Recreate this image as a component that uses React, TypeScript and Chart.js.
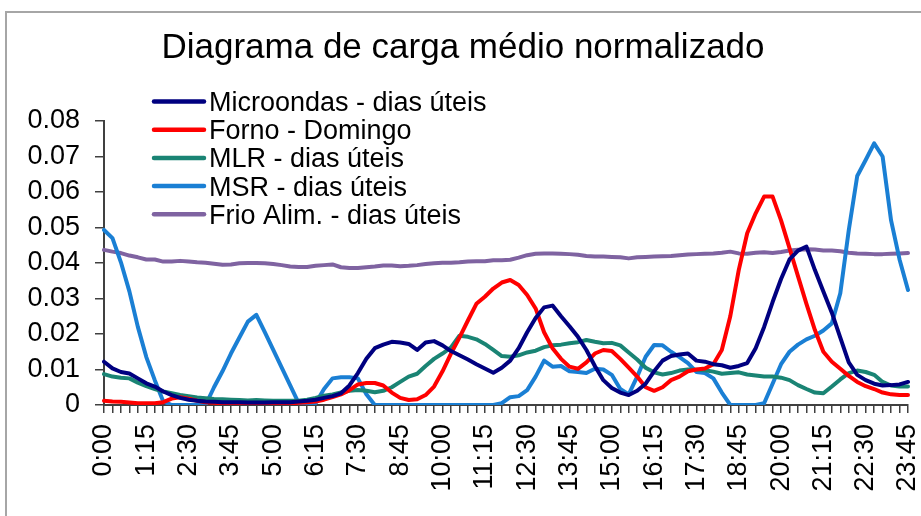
import React, { useEffect, useRef } from "react";
import Chart from "chart.js/auto";

const TIMES = [
  "0:00", "0:15", "0:30", "0:45", "1:00", "1:15", "1:30", "1:45",
  "2:00", "2:15", "2:30", "2:45", "3:00", "3:15", "3:30", "3:45",
  "4:00", "4:15", "4:30", "4:45", "5:00", "5:15", "5:30", "5:45",
  "6:00", "6:15", "6:30", "6:45", "7:00", "7:15", "7:30", "7:45",
  "8:00", "8:15", "8:30", "8:45", "9:00", "9:15", "9:30", "9:45",
  "10:00", "10:15", "10:30", "10:45", "11:00", "11:15", "11:30", "11:45",
  "12:00", "12:15", "12:30", "12:45", "13:00", "13:15", "13:30", "13:45",
  "14:00", "14:15", "14:30", "14:45", "15:00", "15:15", "15:30", "15:45",
  "16:00", "16:15", "16:30", "16:45", "17:00", "17:15", "17:30", "17:45",
  "18:00", "18:15", "18:30", "18:45", "19:00", "19:15", "19:30", "19:45",
  "20:00", "20:15", "20:30", "20:45", "21:00", "21:15", "21:30", "21:45",
  "22:00", "22:15", "22:30", "22:45", "23:00", "23:15", "23:30", "23:45",
];

const SHOWN_TICKS = [
  "0:00", "1:15", "2:30", "3:45", "5:00", "6:15", "7:30", "8:45", "10:00", "11:15",
  "12:30", "13:45", "15:00", "16:15", "17:30", "18:45", "20:00", "21:15", "22:30", "23:45",
];

const Y_TICKS = [0, 0.01, 0.02, 0.03, 0.04, 0.05, 0.06, 0.07, 0.08];

const TITLE = "Diagrama de carga médio normalizado";

const MICROONDAS = [
  0.0122, 0.0103, 0.0093, 0.0089, 0.0075, 0.0061, 0.0052, 0.0038,
  0.0028, 0.002, 0.0015, 0.0012, 0.001, 0.0009, 0.0008, 0.0008,
  0.0008, 0.0007, 0.0007, 0.0007, 0.0008, 0.0008, 0.0008, 0.001,
  0.0012, 0.0015, 0.002, 0.0025, 0.0033, 0.0055, 0.009, 0.013,
  0.016, 0.017, 0.0178, 0.0176, 0.0172, 0.0155, 0.0176, 0.018,
  0.0168, 0.0152, 0.014, 0.0128, 0.0115, 0.0103, 0.0091, 0.0105,
  0.0125, 0.016, 0.0205, 0.0245, 0.0275, 0.028, 0.025, 0.0222,
  0.0192, 0.0155, 0.011, 0.007, 0.0048, 0.0035, 0.0028, 0.004,
  0.006, 0.0095, 0.0125, 0.0138, 0.0142, 0.0145, 0.0125, 0.0122,
  0.0115, 0.0112, 0.0105, 0.011, 0.0118, 0.016, 0.022, 0.029,
  0.0355, 0.041, 0.0435, 0.0446, 0.038, 0.032, 0.026, 0.019,
  0.012, 0.0085, 0.007, 0.006, 0.0055, 0.0056, 0.0058, 0.0065,
];

const FORNO = [
  0.0012, 0.001, 0.0009, 0.0007, 0.0005, 0.0005, 0.0005, 0.0008,
  0.0018, 0.0022, 0.0018, 0.0012, 0.0008, 0.0006, 0.0005, 0.0005,
  0.0005, 0.0005, 0.0005, 0.0005, 0.0005, 0.0005, 0.0005, 0.0006,
  0.0008, 0.001, 0.0015, 0.0022, 0.003, 0.0042, 0.0058, 0.0062,
  0.0062, 0.0055, 0.0035, 0.002, 0.0014, 0.0016, 0.0028, 0.0052,
  0.0095, 0.0145, 0.019, 0.0238, 0.0285, 0.0305, 0.0328, 0.0345,
  0.0352, 0.0338, 0.031, 0.0272, 0.0205, 0.016, 0.013, 0.0108,
  0.0102, 0.012, 0.0145, 0.0155, 0.0152, 0.013, 0.0105, 0.008,
  0.005, 0.004, 0.005, 0.007, 0.008, 0.0095, 0.01, 0.0103,
  0.0115, 0.0155, 0.025, 0.038, 0.0484, 0.054, 0.0587, 0.0587,
  0.052, 0.0442, 0.0363, 0.0285, 0.0211, 0.015, 0.0122, 0.0102,
  0.0082, 0.0065, 0.0053, 0.0045, 0.0035, 0.003, 0.0028, 0.0028,
];

const MLR = [
  0.0087, 0.008, 0.0077, 0.0075, 0.0063, 0.0053, 0.0045, 0.0038,
  0.0033, 0.0028, 0.0025, 0.0021, 0.0019, 0.0017, 0.0016, 0.0015,
  0.0014, 0.0013, 0.0014, 0.0013, 0.0012, 0.0012, 0.0012, 0.0012,
  0.0015, 0.002, 0.0026, 0.003, 0.0035, 0.004, 0.0042, 0.004,
  0.0036, 0.004, 0.005, 0.0065, 0.008, 0.0088, 0.011, 0.013,
  0.0145, 0.0162, 0.0195, 0.0192, 0.0185, 0.0172, 0.0155, 0.0138,
  0.0136, 0.014, 0.0148, 0.0153, 0.0163, 0.0168, 0.017, 0.0174,
  0.0177, 0.0183, 0.0178, 0.0174, 0.0175, 0.0168, 0.0148, 0.0128,
  0.0105, 0.0092, 0.0086, 0.009, 0.0097, 0.01, 0.0099, 0.0098,
  0.0094, 0.0088, 0.009, 0.0092, 0.0086, 0.0083, 0.008, 0.008,
  0.0077, 0.007, 0.0056, 0.0045, 0.0035, 0.0033, 0.0052, 0.0072,
  0.009, 0.0097, 0.0093, 0.0085, 0.0065, 0.0055, 0.0052, 0.0052,
];

const MSR = [
  0.0493, 0.047, 0.0402, 0.032, 0.022, 0.0135, 0.007, 0.001,
  0, 0, 0, 0, 0, 0.005, 0.0095, 0.0145,
  0.019, 0.0235, 0.0254, 0.0205, 0.0155, 0.0105, 0.0055, 0.0005,
  0, 0.0005, 0.0045, 0.0075, 0.0078, 0.0078, 0.0075, 0.003,
  0, 0, 0, 0, 0, 0, 0, 0,
  0, 0, 0, 0, 0, 0, 0, 0.0005,
  0.0022, 0.0025, 0.0042, 0.008, 0.0125, 0.0108, 0.011, 0.0095,
  0.0093, 0.009, 0.0102, 0.01, 0.0085, 0.0045, 0.003, 0.008,
  0.0136, 0.0169, 0.0168, 0.015, 0.0135, 0.0118, 0.0093, 0.009,
  0.0075, 0.0035, 0, 0, 0, 0, 0.0005, 0.006,
  0.0115, 0.015, 0.017, 0.0185, 0.0195, 0.021, 0.023, 0.0315,
  0.0492, 0.0645, 0.069, 0.0737, 0.07, 0.052, 0.041, 0.0324,
];

const FRIO = [
  0.0437, 0.0432, 0.0428, 0.0421, 0.0416, 0.041, 0.041, 0.0404,
  0.0404, 0.0406, 0.0404, 0.0402, 0.0401, 0.0398, 0.0395, 0.0396,
  0.0399, 0.04, 0.04, 0.0399, 0.0397, 0.0394, 0.039, 0.0389,
  0.0389, 0.0392, 0.0394, 0.0396, 0.0388, 0.0386, 0.0386, 0.0388,
  0.039, 0.0393, 0.0393, 0.0391, 0.0392, 0.0394, 0.0397, 0.0399,
  0.0401, 0.0401, 0.0402, 0.0404, 0.0405, 0.0405, 0.0408, 0.0408,
  0.0409, 0.0415, 0.0422, 0.0426, 0.0427, 0.0427, 0.0426, 0.0425,
  0.0423, 0.042, 0.0418, 0.0418, 0.0417, 0.0416, 0.0413, 0.0416,
  0.0417, 0.0418, 0.0419, 0.042, 0.0422, 0.0424, 0.0425, 0.0426,
  0.0427, 0.0429, 0.0432, 0.0427, 0.0426, 0.0429, 0.043, 0.0428,
  0.0431, 0.0435, 0.0437, 0.0439, 0.0438, 0.0435, 0.0435, 0.0433,
  0.0429, 0.0427, 0.0426, 0.0425, 0.0425, 0.0426, 0.0427, 0.0428,
];

const SERIES_LABELS = [
  "Microondas - dias úteis",
  "Forno - Domingo",
  "MLR - dias úteis",
  "MSR - dias úteis",
  "Frio Alim. - dias úteis",
];
const SERIES_COLORS = ["#000080", "#ff0000", "#1a8474", "#1a7fd4", "#7f63a1"];

const FONT = '"Liberation Sans", Arial, sans-serif';

const overlayPlugin = {
  id: "overlay",
  afterDraw(chart: any) {
    const ctx = chart.ctx;
    const area = chart.chartArea;
    ctx.save();
    // title
    ctx.fillStyle = "#000";
    ctx.font = `35px ${FONT}`;
    ctx.textAlign = "center";
    ctx.textBaseline = "alphabetic";
    ctx.fillText(TITLE, 463, 58);
    // legend
    chart.data.datasets.forEach((ds: any, i: number) => {
      const y = 101.5 + i * 28.2;
      ctx.strokeStyle = ds.borderColor;
      ctx.lineWidth = 4.5;
      ctx.lineCap = "round";
      ctx.beginPath();
      ctx.moveTo(area.left + 50, y);
      ctx.lineTo(area.left + 100, y);
      ctx.stroke();
      ctx.fillStyle = "#000";
      ctx.font = `27px ${FONT}`;
      ctx.textAlign = "left";
      ctx.textBaseline = "alphabetic";
      ctx.fillText(ds.label, area.left + 105, y + 9.5);
    });
    ctx.restore();
  },
};

export default function App() {
  const ref = useRef<HTMLCanvasElement>(null);
  useEffect(() => {
    const values = [MICROONDAS, FORNO, MLR, MSR, FRIO];
    const chart = new Chart(ref.current as HTMLCanvasElement, {
      type: "line",
      data: {
        labels: TIMES,
        datasets: values.map((v, i) => ({
          label: SERIES_LABELS[i],
          data: v,
          borderColor: SERIES_COLORS[i],
          backgroundColor: SERIES_COLORS[i],
          borderWidth: 4,
          pointRadius: 0,
          tension: 0,
          fill: false,
          borderCapStyle: "round",
          borderJoinStyle: "round",
        })),
      },
      options: {
        responsive: false,
        animation: false,
        devicePixelRatio: 1,
        layout: { padding: { top: 121, left: 0, right: 13, bottom: 0 } },
        plugins: {
          legend: { display: false },
          title: { display: false },
          tooltip: { enabled: false },
        },
        scales: {
          x: {
            type: "category",
            offset: false,
            grid: {
              display: true,
              drawOnChartArea: false,
              drawTicks: true,
              tickLength: 8,
              color: "#404040",
              lineWidth: 1.5,
            },
            border: { display: true, color: "#404040", width: 2 },
            ticks: {
              autoSkip: false,
              minRotation: 90,
              maxRotation: 90,
              padding: 11,
              color: "#000",
              font: { family: FONT, size: 27 },
              callback: (_v: any, i: number) =>
                SHOWN_TICKS.includes(TIMES[i]) ? TIMES[i] : "",
            },
            afterFit: (s: any) => {
              s.height = 111;
              s.paddingLeft = 0;
              s.paddingRight = 0;
            },
          },
          y: {
            min: Y_TICKS[0],
            max: Y_TICKS[Y_TICKS.length - 1],
            grid: {
              display: true,
              drawOnChartArea: false,
              drawTicks: true,
              tickLength: 9,
              color: "#404040",
              lineWidth: 1.5,
            },
            border: { display: true, color: "#404040", width: 2 },
            afterBuildTicks: (s: any) => {
              s.ticks = Y_TICKS.map((v) => ({ value: v }));
            },
            ticks: {
              padding: 15,
              color: "#000",
              font: { family: FONT, size: 27 },
              callback: (v: any) => (Number(v) === 0 ? "0" : Number(v).toFixed(2)),
            },
            afterFit: (s: any) => {
              s.width = 104;
              s.paddingTop = 0;
              s.paddingBottom = 0;
            },
          },
        },
      },
      plugins: [overlayPlugin],
    } as any);
    return () => chart.destroy();
  }, []);

  return (
    <div
      style={{
        position: "fixed",
        left: 0,
        top: 0,
        width: 921,
        height: 516,
        background: "#fff",
        overflow: "hidden",
      }}
    >
      <div
        style={{
          position: "absolute",
          left: 5,
          top: 11,
          right: -5,
          bottom: -5,
          borderTop: "2px solid #a6a6a6",
          borderLeft: "2px solid #a6a6a6",
        }}
      />
      <canvas
        ref={ref}
        width={921}
        height={516}
        style={{ position: "absolute", left: 0, top: 0 }}
      />
    </div>
  );
}
